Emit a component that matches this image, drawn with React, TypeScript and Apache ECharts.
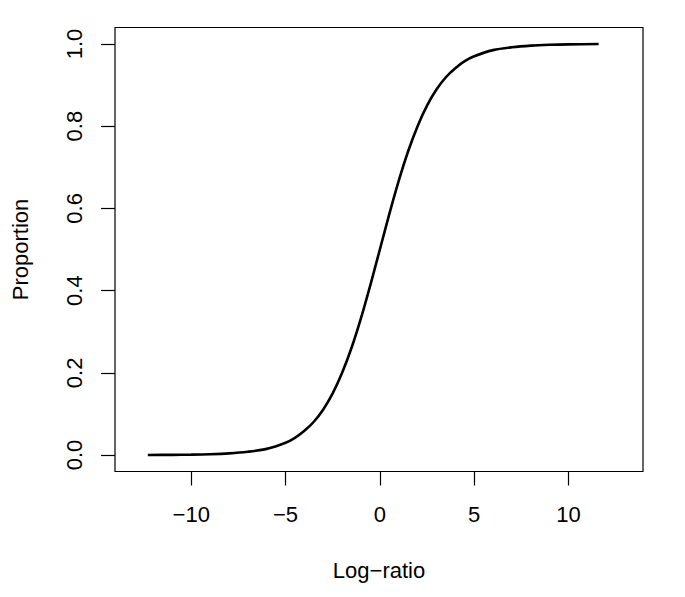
import React, { useEffect, useRef } from "react";
import * as echarts from "echarts";

const logRatio = [-12.3, -11, -10, -9, -8, -7, -6, -5, -4.5, -4, -3.5, -3, -2.5, -2, -1.5, -1, -0.5, 0, 0.5, 1, 1.5, 2, 2.5, 3, 3.5, 4, 4.5, 5, 6, 7, 8, 9, 10, 11.6];
const proportion = [0.0002, 0.0005, 0.001, 0.002, 0.004, 0.008, 0.015, 0.030, 0.042, 0.059, 0.081, 0.111, 0.150, 0.200, 0.261, 0.333, 0.414, 0.500, 0.586, 0.667, 0.739, 0.800, 0.850, 0.889, 0.919, 0.941, 0.958, 0.970, 0.985, 0.992, 0.996, 0.998, 0.999, 0.9998];
const xTicks = [-10, -5, 0, 5, 10];
const yTicks = [0, 0.2, 0.4, 0.6, 0.8, 1.0];

const FONT = "'Liberation Sans', Arial, Helvetica, sans-serif";

export default function App() {
  const ref = useRef<HTMLDivElement>(null);
  useEffect(() => {
    if (!ref.current) return;
    const chart = echarts.init(ref.current, undefined, { renderer: "svg" });
    const data = logRatio.map((x, i) => [x, proportion[i]]);
    chart.setOption({
      animation: false,
      backgroundColor: "#ffffff",
      grid: {
        left: 115,
        right: 42,
        top: 27.5,
        bottom: 125.5,
        show: true,
        borderColor: "#000",
        borderWidth: 1.2,
        backgroundColor: "transparent",
      },
      xAxis: {
        type: "value",
        min: -14.04,
        max: 13.95,
        position: "bottom",
        name: "Log\u2212ratio",
        nameLocation: "middle",
        nameGap: 88,
        nameTextStyle: { color: "#000", fontSize: 22, fontFamily: FONT },
        axisLine: { show: false, onZero: false },
        splitLine: { show: false },
        axisTick: {
          show: true,
          length: 14,
          inside: false,
          customValues: xTicks,
          lineStyle: { color: "#000", width: 1.2 },
        },
        axisLabel: {
          customValues: xTicks,
          margin: 32,
          color: "#000",
          fontSize: 22,
          fontFamily: FONT,
          formatter: (v: number) => (v < 0 ? "\u2212" + Math.abs(v) : String(v)),
        },
      },
      yAxis: {
        type: "value",
        min: -0.04,
        max: 1.04,
        position: "left",
        name: "Proportion",
        nameLocation: "middle",
        nameGap: 84,
        nameTextStyle: { color: "#000", fontSize: 22, fontFamily: FONT },
        axisLine: { show: false, onZero: false },
        splitLine: { show: false },
        axisTick: {
          show: true,
          length: 14,
          inside: false,
          customValues: yTicks,
          lineStyle: { color: "#000", width: 1.2 },
        },
        axisLabel: {
          customValues: yTicks,
          rotate: 90,
          margin: 30,
          color: "#000",
          fontSize: 22,
          fontFamily: FONT,
          formatter: (v: number) => v.toFixed(1),
        },
      },
      series: [
        {
          type: "line",
          data,
          smooth: 0.3,
          showSymbol: false,
          lineStyle: { color: "#000", width: 2.6 },
        },
      ],
    });
    return () => chart.dispose();
  }, []);
  return (
    <div
      ref={ref}
      style={{ position: "fixed", left: 0, top: 0, width: 685, height: 597, background: "#fff" }}
    />
  );
}
